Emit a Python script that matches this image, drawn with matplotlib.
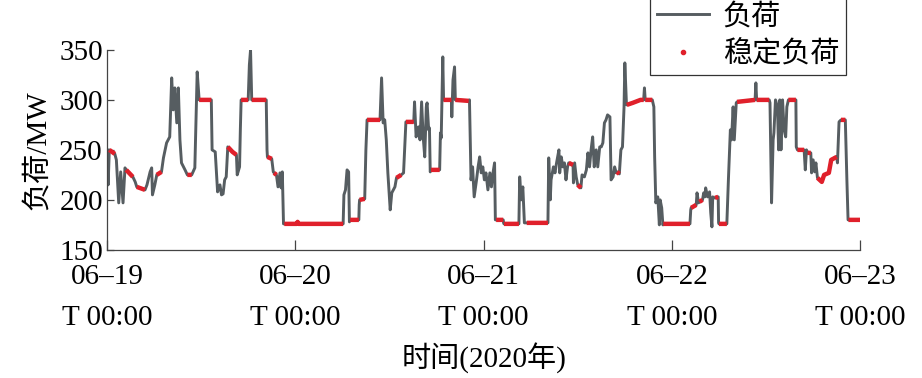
import numpy as np
import matplotlib
matplotlib.use("Agg")
import matplotlib.pyplot as plt
from matplotlib.lines import Line2D

plt.rcParams['font.family'] = ['Liberation Serif', 'Noto Sans CJK SC']
plt.rcParams['axes.unicode_minus'] = False

# hours since 06-19 00:00 (10 per row, rows line up with load_mw / stable)
hours = [0.0, 0.15, 0.3, 1.0, 1.2, 1.5, 1.75, 2.05, 2.3, 2.45,
         3.3, 3.6, 3.8, 4.85, 5.1, 5.5, 5.7, 5.8, 6.1, 6.35,
         6.95, 7.2, 7.6, 8.0, 8.25, 8.45, 8.65, 8.9, 9.1, 9.3,
         9.5, 9.95, 10.25, 10.8, 11.2, 11.5, 11.75, 13.3, 13.4, 13.8,
         14.1, 14.4, 14.6, 14.8, 15.0, 15.2, 15.4, 16.0, 16.5, 16.6,
         16.9, 17.0, 17.1, 18.0, 18.15, 18.3, 18.45, 20.3, 20.4, 20.45,
         21.0, 21.2, 21.3, 21.6, 21.8, 22.05, 22.2, 22.35, 22.5, 22.6,
         24.2, 24.3, 24.4, 30.1, 30.2, 30.4, 30.6, 30.8, 30.9, 31.0,
         32.1, 32.15, 32.2, 32.85, 33.0, 33.15, 34.8, 35.0, 35.2, 35.4,
         35.6, 35.8, 36.1, 36.3, 36.7, 36.9, 37.5, 37.8, 38.0, 38.1,
         39.1, 39.2, 39.4, 39.7, 39.9, 40.1, 40.3, 40.5, 40.7, 40.8,
         41.0, 41.1, 41.2, 41.3, 42.4, 42.5, 42.6, 42.8, 42.9, 43.9,
         43.95, 44.1, 44.3, 44.4, 46.1, 46.2, 46.4, 46.6, 46.8, 47.1,
         47.3, 47.5, 47.7, 47.9, 48.1, 48.3, 48.55, 48.8, 49.0, 49.2,
         49.4, 49.5, 49.6, 50.5, 50.55, 50.6, 52.5, 52.6, 52.8, 53.0,
         53.2, 53.5, 56.2, 56.3, 56.5, 56.6, 56.9, 57.1, 57.3, 57.6,
         57.7, 57.9, 58.1, 58.3, 58.5, 58.7, 58.85, 59.4, 59.45, 59.6,
         59.8, 60.0, 60.4, 60.55, 60.85, 61.1, 61.3, 61.5, 61.7, 61.9,
         62.1, 62.35, 62.55, 62.8, 63.0, 63.2, 63.4, 63.6, 63.8, 64.1,
         64.25, 64.5, 64.7, 64.9, 65.0, 65.3, 65.5, 65.7, 65.9, 66.0,
         66.2, 66.25, 67.0, 68.0, 68.4, 68.5, 68.6, 69.5, 69.7, 69.8,
         69.95, 70.2, 70.4, 70.5, 70.7, 70.85, 70.9, 74.3, 74.4, 74.45,
         75.1, 75.2, 75.4, 75.5, 75.9, 76.05, 76.2, 76.3, 76.55, 76.8,
         76.95, 77.1, 77.2, 77.4, 77.5, 77.9, 77.95, 78.0, 79.0, 79.2,
         79.45, 79.6, 79.8, 79.95, 80.2, 80.3, 82.6, 82.7, 82.8, 84.4,
         84.5, 84.7, 84.9, 85.0, 85.2, 85.45, 85.6, 85.75, 85.9, 86.1,
         86.3, 86.5, 86.65, 86.85, 87.8, 87.85, 88.0, 88.85, 89.0, 89.15,
         89.3, 89.7, 89.8, 90.0, 90.2, 90.35, 90.55, 91.1, 91.4, 92.0,
         92.3, 93.0, 93.1, 93.3, 93.55, 94.1, 94.3, 94.45, 94.5, 96.0]

load_mw = [250, 215, 250, 246, 240, 197, 228, 197, 232, 230,
           223, 218, 213, 210, 215, 228, 232, 205, 215, 225,
           228, 242, 257, 263, 322, 290, 312, 277, 312, 260,
           237, 230, 225, 225, 232, 328, 300, 300, 250, 248,
           208, 215, 205, 206, 220, 223, 253, 248, 245, 225,
           233, 270, 300, 300, 335, 350, 300, 300, 250, 243,
           241, 228, 227, 225, 213, 227, 212, 228, 176, 176,
           176, 178, 176, 176, 205, 210, 230, 228, 178, 180,
           180, 195, 200, 201, 250, 280, 280, 322, 277, 280,
           260, 227, 190, 207, 213, 222, 225, 227, 260, 278,
           278, 298, 263, 273, 260, 298, 263, 243, 293, 297,
           270, 272, 228, 230, 230, 267, 262, 343, 300, 300,
           283, 320, 333, 300, 299, 300, 220, 233, 203, 220,
           233, 243, 227, 233, 220, 227, 210, 227, 213, 227,
           237, 180, 180, 180, 177, 176, 176, 223, 200, 213,
           177, 177, 177, 242, 200, 220, 233, 227, 237, 250,
           227, 243, 233, 237, 220, 233, 237, 235, 217, 237,
           223, 215, 212, 225, 223, 230, 247, 233, 250, 263,
           233, 250, 233, 253, 253, 257, 277, 280, 285, 283,
           220, 223, 233, 227, 228, 226, 250, 253, 293, 337,
           297, 295, 297, 300, 300, 312, 300, 300, 293, 243,
           197, 203, 175, 200, 192, 175, 176, 176, 190, 192,
           195, 207, 197, 198, 200, 207, 203, 212, 203, 208,
           187, 173, 203, 202, 202, 203, 177, 176, 176, 220,
           270, 260, 293, 260, 297, 298, 300, 317, 300, 300,
           297, 197, 260, 267, 300, 293, 250, 300, 250, 300,
           270, 263, 293, 300, 300, 253, 250, 250, 230, 250,
           247, 247, 227, 240, 228, 237, 222, 218, 225, 227,
           240, 243, 237, 278, 280, 280, 220, 180, 180, 180]

# 1 = point flagged as stable load
stable = [0, 0, 1, 1, 0, 0, 0, 0, 0, 1,
          1, 0, 1, 1, 0, 0, 0, 0, 0, 1,
          1, 0, 0, 0, 0, 0, 0, 0, 0, 0,
          0, 0, 1, 1, 0, 0, 1, 1, 0, 0,
          0, 0, 0, 0, 0, 0, 1, 1, 1, 0,
          0, 0, 1, 1, 0, 0, 1, 1, 0, 1,
          1, 0, 1, 1, 0, 0, 0, 0, 0, 1,
          1, 1, 1, 1, 0, 0, 0, 0, 0, 1,
          1, 0, 1, 1, 0, 1, 1, 0, 0, 0,
          0, 0, 0, 0, 0, 1, 1, 0, 0, 1,
          1, 0, 0, 0, 0, 0, 0, 0, 0, 0,
          0, 0, 0, 1, 1, 0, 0, 0, 1, 1,
          0, 0, 0, 1, 1, 0, 0, 0, 0, 0,
          0, 0, 0, 0, 0, 0, 0, 0, 0, 0,
          0, 0, 1, 1, 0, 1, 1, 0, 0, 0,
          0, 1, 1, 0, 0, 0, 0, 0, 0, 0,
          0, 0, 0, 0, 0, 0, 1, 1, 0, 0,
          0, 1, 1, 0, 0, 0, 0, 0, 0, 0,
          0, 0, 0, 0, 0, 0, 0, 0, 0, 0,
          0, 0, 0, 0, 1, 1, 0, 0, 0, 0,
          0, 1, 1, 1, 1, 0, 1, 1, 0, 0,
          0, 0, 0, 0, 0, 0, 1, 1, 0, 1,
          1, 0, 0, 1, 1, 0, 0, 0, 0, 0,
          0, 0, 0, 0, 1, 1, 0, 1, 1, 0,
          0, 0, 0, 0, 0, 1, 1, 0, 1, 1,
          0, 0, 0, 0, 0, 0, 0, 0, 0, 0,
          0, 0, 0, 1, 1, 0, 1, 1, 0, 0,
          1, 1, 0, 0, 0, 0, 1, 1, 1, 1,
          1, 1, 0, 0, 1, 1, 0, 0, 1, 1]

day_ticks = [0, 24, 48, 72, 96]
day_labels = ["06–19\nT 00:00", "06–20\nT 00:00", "06–21\nT 00:00",
              "06–22\nT 00:00", "06–23\nT 00:00"]

grey = "#565d61"
red = "#e0202b"

hours = np.array(hours)
load_mw = np.array(load_mw, dtype=float)
stable = np.array(stable, dtype=bool)
stable_mw = np.where(stable, load_mw, np.nan)

fig = plt.figure(figsize=(9.22, 3.78), dpi=100)
ax = fig.add_axes([0.116, 0.339, 0.817, 0.529])

ax.plot(hours, load_mw, color=grey, lw=2.1, solid_joinstyle="round", zorder=2)
ax.plot(hours, stable_mw, color=red, lw=3.2, solid_capstyle="butt", zorder=3)

ax.set_xlim(0, 96)
ax.set_ylim(150, 350)
ax.set_yticks([150, 200, 250, 300, 350])
ax.set_xticks(day_ticks)
ax.set_xticklabels(day_labels, linespacing=1.75)

for s in ["top", "right"]:
    ax.spines[s].set_visible(False)
for s in ["left", "bottom"]:
    ax.spines[s].set_color("#444444")
    ax.spines[s].set_linewidth(0.9)

ax.tick_params(axis="both", direction="in", labelsize=21, color="#444444", width=0.9)
ax.tick_params(axis="y", length=5, pad=3)
ax.tick_params(axis="x", length=7, pad=10)

ax.set_ylabel("负荷/MW", fontsize=21, labelpad=6)
ax.set_xlabel("时间(2020年)", fontsize=21, labelpad=8)

handles = [Line2D([], [], color=grey, lw=2.1),
           Line2D([], [], color=red, marker=".", markersize=6, linestyle="None")]
leg = fig.legend(handles, ["负荷", "稳定负荷"], loc="upper right",
                 bbox_to_anchor=(0.918, 1.01), fontsize=21, frameon=True,
                 fancybox=False, edgecolor="#333333", framealpha=1,
                 handlelength=1.8, handletextpad=0.45, borderpad=0.25,
                 labelspacing=0.35, borderaxespad=0)
leg.get_frame().set_linewidth(0.9)

fig.savefig("out.png", dpi=100)
